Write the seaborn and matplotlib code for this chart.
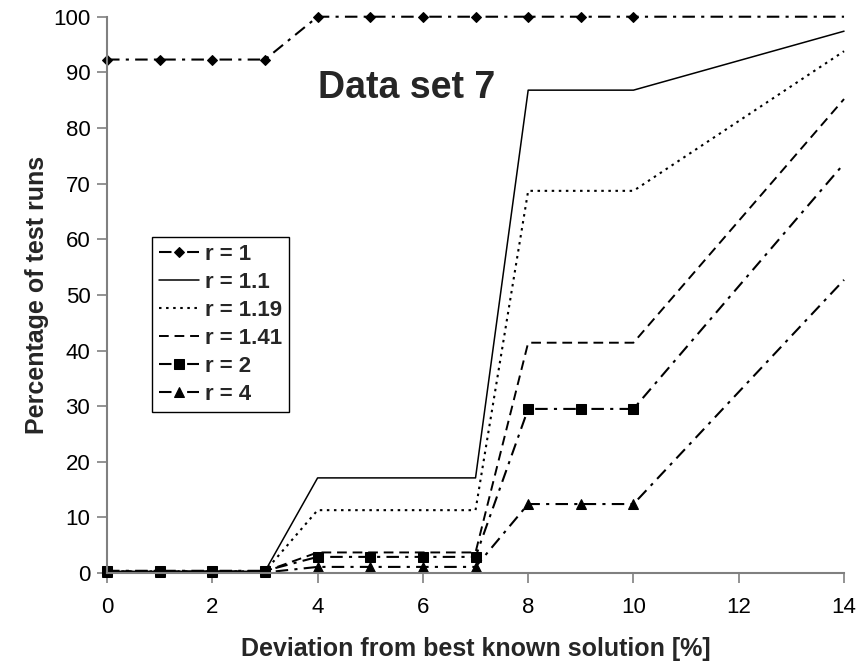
import matplotlib
matplotlib.use("Agg")
import matplotlib.pyplot as plt
import seaborn as sns
import pandas as pd

# Deviation from best known solution [%]
deviation = [0, 1, 2, 3, 4, 5, 6, 7, 8, 9, 10, 14]

# Percentage of test runs within each deviation, per r value
r_1 = [92.3, 92.3, 92.3, 92.3, 100, 100, 100, 100, 100, 100, 100, 100]
r_1_1 = [0.3, 0.3, 0.3, 0.3, 17.1, 17.1, 17.1, 17.1, 86.8, 86.8, 86.8, 97.4]
r_1_19 = [0.3, 0.3, 0.3, 0.3, 11.3, 11.3, 11.3, 11.3, 68.7, 68.7, 68.7, 93.8]
r_1_41 = [0.3, 0.3, 0.3, 0.3, 3.7, 3.7, 3.7, 3.7, 41.4, 41.4, 41.4, 85.2]
r_2 = [0.4, 0.4, 0.4, 0.4, 2.9, 2.9, 2.9, 2.9, 29.5, 29.5, 29.5, 73.6]
r_4 = [0.1, 0.1, 0.1, 0.1, 1.1, 1.1, 1.1, 1.1, 12.4, 12.4, 12.4, 52.7]

labels = ["r = 1", "r = 1.1", "r = 1.19", "r = 1.41", "r = 2", "r = 4"]
series = [r_1, r_1_1, r_1_19, r_1_41, r_2, r_4]

sns.set_theme(style="white")
plt.rcParams["font.family"] = ["Liberation Sans", "DejaVu Sans"]

fig = plt.figure(figsize=(8.61, 6.66), dpi=100)
ax = fig.add_axes([0.1243, 0.1396, 0.856, 0.8353])

dashdot = (0, (6, 3, 1.5, 3))
styles = [
    dict(linestyle=dashdot, marker="D", markersize=5.5, lw=1.5),
    dict(linestyle="-", marker=None, lw=1.1),
    dict(linestyle=(0, (1.2, 2.2)), marker=None, lw=1.5),
    dict(linestyle=(0, (5, 3)), marker=None, lw=1.4),
    dict(linestyle=dashdot, marker="s", markersize=7, lw=1.5),
    dict(linestyle=dashdot, marker="^", markersize=7.5, lw=1.5),
]

for lab, vals, st in zip(labels, series, styles):
    df = pd.DataFrame({"x": deviation, "y": vals})
    kw = dict(color="black", linewidth=st["lw"], linestyle=st["linestyle"],
              clip_on=False, label=lab)
    if st["marker"] is not None:
        kw.update(marker=st["marker"], markersize=st["markersize"],
                  markeredgecolor="black", markerfacecolor="black",
                  markevery=list(range(11)))
    sns.lineplot(data=df, x="x", y="y", ax=ax, **kw)

ax.set_xlim(0, 14)
ax.set_ylim(0, 100)
ax.set_xticks(range(0, 15, 2))
ax.set_yticks(range(0, 101, 10))

for side in ["top", "right"]:
    ax.spines[side].set_visible(False)
for side in ["left", "bottom"]:
    ax.spines[side].set_color("#808080")
    ax.spines[side].set_linewidth(1.5)

ax.tick_params(axis="both", direction="out", length=7, width=1.2,
               color="#808080", labelsize=16, labelcolor="black",
               left=True, bottom=True, pad=5)
ax.tick_params(axis="x", pad=10)

ax.set_xlabel("Deviation from best known solution [%]", fontsize=18,
              fontweight="bold", labelpad=14)
ax.set_ylabel("Percentage of test runs", fontsize=18, fontweight="bold",
              labelpad=3)

ax.text(5.7, 87.2, "Data set 7", fontsize=27, fontweight="bold",
        ha="center", va="center")

leg = ax.legend(loc="upper left", bbox_to_anchor=(0.061, 0.604),
                frameon=True, fancybox=False, shadow=False, numpoints=1,
                prop={"size": 16, "weight": "bold"}, handlelength=1.8,
                handletextpad=0.3, labelspacing=0.32, borderpad=0.3,
                borderaxespad=0)
leg.get_frame().set_edgecolor("black")
leg.get_frame().set_linewidth(1.0)
leg.get_frame().set_alpha(1)

ax.grid(False)
fig.savefig("out.png", dpi=100)
